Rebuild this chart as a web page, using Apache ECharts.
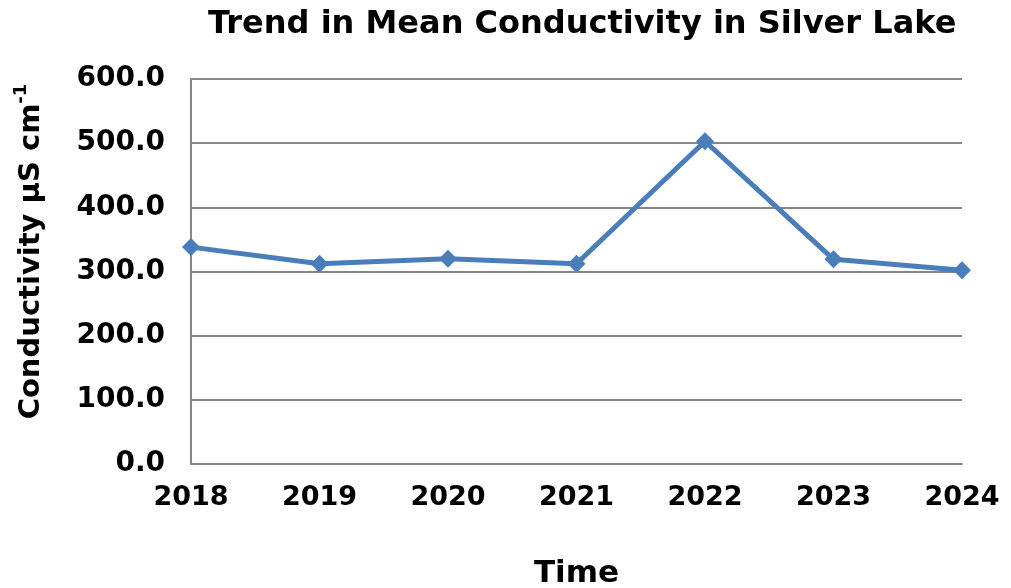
<!DOCTYPE html>
<html>
<head>
<meta charset="utf-8">
<script src="https://cdn.jsdelivr.net/npm/echarts@6/dist/echarts.min.js"></script>
<style>
  html, body { margin: 0; padding: 0; background: #fff; }
  #chart { width: 1011px; height: 588px; }
</style>
</head>
<body>
<div id="chart"></div>
<script>
const years = ['2018', '2019', '2020', '2021', '2022', '2023', '2024'];
const conductivity = [338, 312, 320, 312, 503, 319, 302];
const yTicks = [0, 100, 200, 300, 400, 500, 600];

const chart = echarts.init(document.getElementById('chart'));
const font = 'DejaVu Sans, Verdana, sans-serif';

chart.setOption({
  animation: false,
  title: {
    text: 'Trend in Mean Conductivity in Silver Lake',
    left: 203,
    top: 4,
    textStyle: { fontFamily: font, fontWeight: 'bold', fontSize: 32, color: '#000' }
  },
  grid: { left: 191, right: 49, top: 79, bottom: 124, outerBoundsMode: 'none' },
  xAxis: {
    type: 'category',
    data: years,
    boundaryGap: false,
    name: 'Time',
    nameLocation: 'middle',
    nameGap: 94,
    nameTextStyle: { fontFamily: font, fontWeight: 'bold', fontSize: 31, color: '#000' },
    axisLine: { lineStyle: { color: '#868686', width: 2 } },
    axisTick: { show: false },
    axisLabel: { fontFamily: font, fontWeight: 'bold', fontSize: 27, color: '#000', margin: 20 }
  },
  yAxis: {
    type: 'value',
    min: yTicks[0],
    max: yTicks[yTicks.length - 1],
    interval: 100,
    name: '{m|Conductivity µS cm}{s|-1}',
    nameLocation: 'middle',
    nameGap: 145,
    nameTextStyle: {
      fontFamily: font, fontWeight: 'bold', fontSize: 29, color: '#000',
      padding: [0, 0, 0, 40],
      rich: {
        m: { fontFamily: font, fontWeight: 'bold', fontSize: 29, color: '#000', lineHeight: 34, verticalAlign: 'bottom' },
        s: { fontFamily: font, fontWeight: 'bold', fontSize: 18, color: '#000', lineHeight: 34, verticalAlign: 'top' }
      }
    },
    axisLine: { show: true, lineStyle: { color: '#868686', width: 2 } },
    axisTick: { show: false },
    splitLine: { lineStyle: { color: '#868686', width: 2 } },
    axisLabel: {
      fontFamily: font, fontWeight: 'bold', fontSize: 28, color: '#000', margin: 26,
      formatter: v => v.toFixed(1)
    }
  },
  series: [{
    type: 'line',
    data: conductivity,
    symbol: 'diamond',
    symbolSize: 18,
    lineStyle: { color: '#4a7ebb', width: 5 },
    itemStyle: { color: '#4a7ebb' }
  }]
});
</script>
</body>
</html>
